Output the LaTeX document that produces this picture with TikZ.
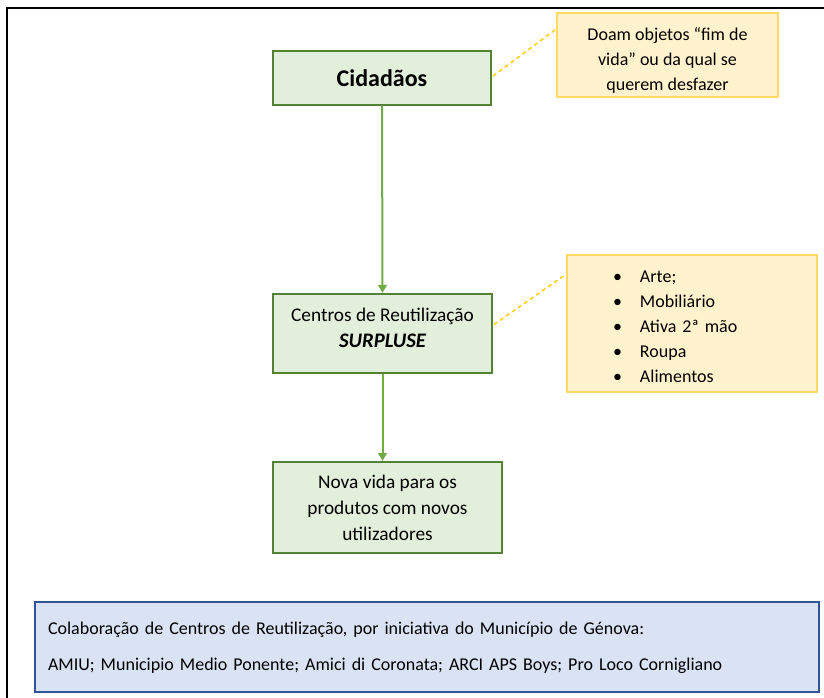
\documentclass[tikz,border=0pt]{standalone}
\usepackage{fontspec}
\setmainfont{Carlito}
\usetikzlibrary{arrows.meta,calc}
\definecolor{gfill}{HTML}{E2EFDA}
\definecolor{gdraw}{HTML}{548235}
\definecolor{garrow}{HTML}{70AD47}
\definecolor{yfill}{HTML}{FFF2CC}
\definecolor{ydraw}{HTML}{FFD966}
\definecolor{ydash}{HTML}{FFC000}
\definecolor{bfill}{HTML}{DAE3F3}
\definecolor{bdraw}{HTML}{2F5597}
\tikzset{
  greenbox/.style={draw=gdraw, fill=gfill, line width=1.5pt, align=center, inner sep=0pt},
  notebox/.style={draw=ydraw, fill=yfill, line width=1.5pt, inner sep=0pt},
  bluebox/.style={draw=bdraw, fill=bfill, line width=1.5pt},
  flow/.style={draw=garrow, line width=1.5pt, -{Triangle[length=6pt,width=6.5pt]}},
  callout/.style={draw=ydash!80!yellow, line width=1.1pt, dash pattern=on 3pt off 2.5pt},
  txt/.style={font=\fontsize{14.5}{18.75}\selectfont},
  smalltxt/.style={font=\fontsize{13.5}{18.75}\selectfont},
}
\newcommand{\bulletitem}[1]{\makebox[20.25pt][l]{\textbullet}#1}
\begin{document}
\begin{tikzpicture}[x=0.75pt,y=-0.75pt]
\useasboundingbox (0,0) rectangle (824,698);
\fill[white] (0,0) rectangle (824,698);
% outer frame (cut off at right and bottom)
\draw[line width=1.6pt, black] (7,698) -- (7,8) -- (824,8);

\node[greenbox, minimum width=163.5pt, minimum height=40.5pt,
  font=\fontsize{18}{22}\selectfont\bfseries] (cid) at (382,78) {Cidadãos};

\node[notebox, minimum width=165.75pt, minimum height=63pt, align=center, smalltxt] (n1) at (667.5,55)
  {\rule{0pt}{17.5pt}Doam objetos “fim de\\vida” ou da qual se\\querem desfazer};

\node[greenbox, minimum width=164.25pt, minimum height=59.25pt, txt] (cen) at (382.5,333.5)
  {Centros de Reutilização\\[1pt]{\fontsize{15.5}{18}\selectfont\bfseries\itshape SURPLUSE}\rule[-9pt]{0pt}{9pt}};

\node[notebox, minimum width=187.5pt, minimum height=102.75pt, inner xsep=34.5pt,
  text width=118.5pt, align=left, smalltxt] (n2) at (692,323.5)
  {\rule{0pt}{14.25pt}\bulletitem{Arte;}\\
   \bulletitem{Mobiliário}\\
   \bulletitem{Ativa 2ª mão}\\
   \bulletitem{Roupa}\\
   \bulletitem{Alimentos}};

\node[greenbox, minimum width=171.75pt, minimum height=68.25pt, font=\fontsize{14.5}{19.5}\selectfont] (nova) at (387.5,507.5)
  {Nova vida para os\\produtos com novos\\utilizadores};

\node[bluebox, minimum width=588pt, minimum height=67.5pt, inner xsep=9.75pt,
  text width=568.5pt, align=left, smalltxt] (col) at (427,647)
  {\rule{0pt}{10pt}Colaboração de Centros de Reutilização, por iniciativa do Município de Génova:\\[8.25pt]
   AMIU; Municipio Medio Ponente; Amici di Coronata; ARCI APS Boys; Pro Loco Cornigliano};

% connectors
\draw[flow] (cid.south) -- (cen.north);
\draw[flow] (cen.south) -- (cen.south |- nova.north);
\draw[callout] ($(cid.east)+(1,-2)$) -- ($(n1.north west)!0.2!(n1.south west)$);
\draw[callout] ($(cen.east)+(1,-9)$) -- ($(n2.north west)!0.146!(n2.south west)$);
\end{tikzpicture}
\end{document}
